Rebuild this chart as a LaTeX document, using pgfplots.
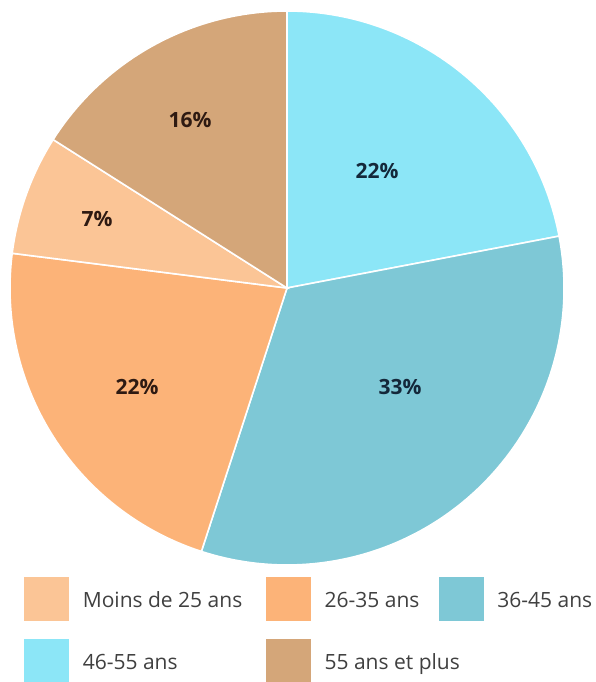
\documentclass[border=0pt]{standalone}
\usepackage{pgfplots}
\pgfplotsset{compat=1.18}
\usepackage{fontspec}
\setmainfont{Open Sans}

\definecolor{cA}{HTML}{8CE6F7}  % 46-55 ans
\definecolor{cB}{HTML}{7EC8D6}  % 36-45 ans
\definecolor{cC}{HTML}{FCB378}  % 26-35 ans
\definecolor{cD}{HTML}{FBC596}  % Moins de 25 ans
\definecolor{cE}{HTML}{D4A679}  % 55 ans et plus
\definecolor{legtext}{HTML}{404040}
\definecolor{darkblue}{HTML}{14283A}
\definecolor{darkbrown}{HTML}{2E1A12}

% slice from cumulative percent #1 to #2, clockwise from the top
\newcommand{\pieslice}[3]{%
  \filldraw[fill=#3, draw=white, line width=0.8pt]
    (axis cs:0,0) -- (axis cs:{277*cos(90-3.6*#1)},{277*sin(90-3.6*#1)})
    arc[start angle={90-3.6*#1}, end angle={90-3.6*#2}, radius=138.5pt] -- cycle;
}
\newcommand{\leg}[2]{\makebox[#1][l]{\hspace{7pt}\raisebox{-2.5pt}{#2}}}

\begin{document}
\begin{tikzpicture}
\begin{axis}[
  x=0.5pt, y=0.5pt,
  xmin=-287, xmax=309, ymin=-394, ymax=288,
  hide axis, clip=false,
  legend columns=3,
  legend cell align=left,
  legend style={at={(axis cs:-263,-289)}, anchor=north west,
    draw=none, fill=none, inner sep=0pt, outer sep=0pt,
    row sep=9pt, column sep=0pt,
    nodes={inner sep=0pt, outer sep=0pt},
    font=\fontsize{10.5}{12}\selectfont\color{legtext}},
  legend image code/.code={\fill[#1] (0pt,-10.75pt) rectangle (22pt,10.75pt);},
]
\coordinate (bl) at (axis cs:-287,-394);
\coordinate (tr) at (axis cs:309,288);

% 46-55: 22, 36-45: 33, 26-35: 22, <25: 7, 55+: 16
\pieslice{0}{22}{cA}
\pieslice{22}{55}{cB}
\pieslice{55}{77}{cC}
\pieslice{77}{84}{cD}
\pieslice{84}{100}{cE}

\node[font=\fontsize{10.5}{12}\selectfont\bfseries, text=darkblue] at (axis cs:90,117) {22\%};
\node[font=\fontsize{10.5}{12}\selectfont\bfseries, text=darkblue] at (axis cs:113,-99) {33\%};
\node[font=\fontsize{10.5}{12}\selectfont\bfseries, text=darkbrown] at (axis cs:-150,-99) {22\%};
\node[font=\fontsize{10.5}{12}\selectfont\bfseries, text=darkbrown] at (axis cs:-190,69) {7\%};
\node[font=\fontsize{10.5}{12}\selectfont\bfseries, text=darkbrown] at (axis cs:-97,168) {16\%};

\addlegendimage{cD}
\addlegendentry{\leg{98.5pt}{Moins de 25 ans}}
\addlegendimage{cC}
\addlegendentry{\leg{64pt}{26-35 ans}}
\addlegendimage{cB}
\addlegendentry{\leg{55pt}{36-45 ans}}
\addlegendimage{cA}
\addlegendentry{\leg{98.5pt}{46-55 ans}}
\addlegendimage{cE}
\addlegendentry{\leg{64pt}{55 ans et plus}}
\end{axis}
\pgfresetboundingbox
\useasboundingbox (bl) rectangle (tr);
\end{tikzpicture}
\end{document}
